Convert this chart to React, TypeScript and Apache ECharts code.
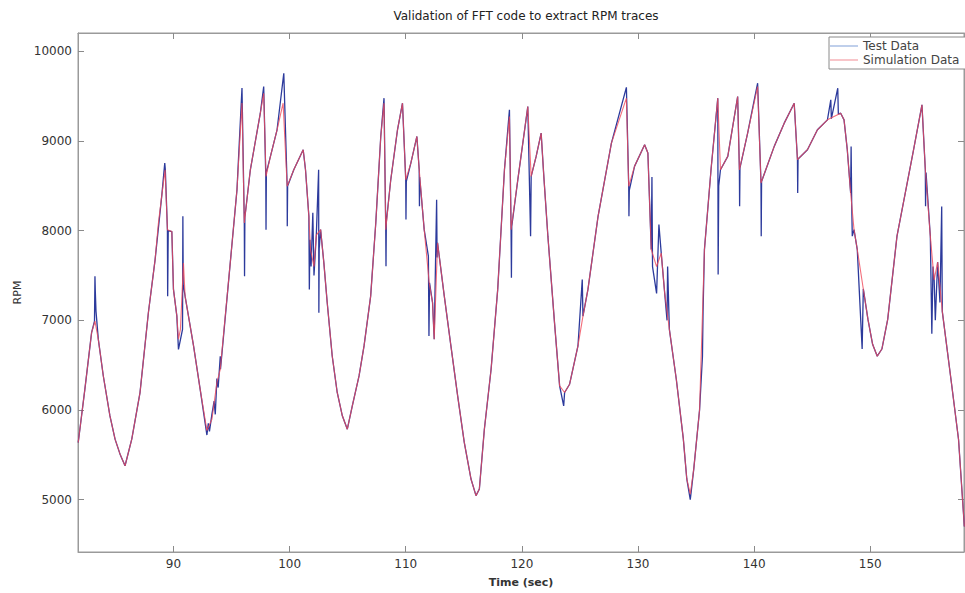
import React, { useEffect, useRef } from "react";
import * as echarts from "echarts";

// Time axis (sec) and RPM
const xTicks = [90, 100, 110, 120, 130, 140, 150];
const yTicks = [5000, 6000, 7000, 8000, 9000, 10000];

// Simulation Data (red)
const simT = [
  81.8, 82.37, 82.95, 83.24, 83.53, 83.96, 84.53, 84.97, 85.4, 85.83, 86.41, 87.12, 87.84, 88.42, 88.7, 89.0, 89.28,
  89.48, 89.86, 90.0, 90.29, 90.43, 90.6, 90.86, 91.0, 91.73, 92.3, 92.88, 93.31, 93.74, 94.03, 94.89, 95.47, 95.9,
  96.1, 96.62, 97.48, 97.77, 97.97, 98.35, 98.92, 99.44, 99.79, 100.36, 101.17, 101.37, 101.66, 101.8, 102.1, 102.3,
  102.67, 102.95, 103.24, 103.67, 104.1, 104.54, 104.97, 105.4, 105.98, 106.41, 106.98, 107.42, 107.85, 108.13,
  108.28, 108.71, 109.29, 109.72, 110.0, 110.44, 110.96, 111.16, 111.59, 112.02, 112.31, 112.45, 112.74, 113.32,
  113.89, 114.47, 115.04, 115.62, 116.05, 116.34, 116.77, 117.35, 117.92, 118.5, 118.93, 119.07, 119.65, 120.51,
  120.8, 121.23, 121.66, 121.89, 122.24, 122.81, 123.25, 123.68, 124.11, 124.83, 125.26, 125.69, 126.56, 127.71,
  129.0, 129.2, 129.7, 130.57, 130.85, 131.14, 131.6, 132.0, 132.3, 132.7, 133.3, 133.9, 134.2, 134.5, 134.8, 135.3,
  135.72, 136.3, 136.87, 137.1, 137.73, 138.58, 138.73, 139.44, 140.3, 140.59, 141.73, 142.59, 143.45, 143.73,
  144.59, 145.45, 146.31, 147.45, 147.74, 148.02, 148.31, 148.6, 148.88, 149.4, 149.8, 150.2, 150.6, 151.0, 151.5,
  152.3, 153.73, 154.45, 154.74, 155.17, 155.5, 155.8, 156.2, 157.0, 157.6, 158.1,
];
const simRpm = [
  5637, 6230, 6862, 6991, 6787, 6379, 5933, 5674, 5507, 5377, 5674, 6194, 7085, 7678, 8080, 8400, 8680,
  8012, 7990, 7345, 7050, 6790, 6900, 7640, 7270, 6714, 6230, 5770, 5896, 6305, 6454, 7641, 8459, 9424,
  8086, 8680, 9311, 9534, 8606, 8829, 9126, 9423, 8495, 8680, 8903, 8680, 8160, 7790, 7600, 7950,
  8012, 7641, 7196, 6602, 6195, 5935, 5785, 6045, 6380, 6714, 7270, 8086, 9052, 9423,
  8012, 8568, 9126, 9423, 8568, 8755, 9052, 8680, 8012, 7419, 7196, 6788, 7864, 7270,
  6714, 6157, 5638, 5229, 5044, 5118, 5785, 6454, 7345, 8680, 9274, 8012, 8568, 9385,
  8606, 8829, 9089, 8606, 7939, 6974, 6269, 6195, 6287, 6714, 7047, 7345, 8160, 8977,
  9479, 8495, 8718, 8959, 8867, 7790, 7600, 7750, 7300, 6900, 6340, 5680, 5230, 5060, 5340, 6000,
  7790, 8700, 9479, 8680, 8830, 9497, 8680, 9089, 9609, 8532, 8941, 9200, 9423, 8792,
  8904, 9126, 9237, 9311, 9237, 8904, 8420, 8012, 7790, 7350, 7010, 6733, 6600, 6680, 7010,
  7939, 8904, 9405, 8680, 7939, 7450, 7650, 7100, 6290, 5670, 4700,
];

// Test Data (blue), same trace with the measured spikes
const testT = [
  81.8, 82.37, 82.95, 83.2, 83.24, 83.27, 83.33, 83.53, 83.96, 84.53, 84.97, 85.4, 85.83, 86.41, 87.12, 87.84, 88.42,
  89.0, 89.25, 89.3, 89.48, 89.5, 89.55, 89.86, 90.0, 90.29, 90.43, 90.78, 90.81, 90.84, 91.0, 91.73, 92.3, 92.88,
  93.0, 93.1, 93.31, 93.5, 93.6, 93.74, 93.85, 94.03, 94.05, 94.89, 95.47, 95.9, 96.1, 96.12, 96.15, 96.62, 97.48,
  97.77, 97.95, 97.97, 98.0, 98.35, 98.92, 99.5, 99.79, 99.8, 99.83, 100.36, 101.17, 101.37, 101.66, 101.7, 101.75,
  101.85, 102.0, 102.1, 102.3, 102.5, 102.52, 102.55, 102.67, 102.95, 103.24, 103.67, 104.1, 104.54, 104.97, 105.4,
  105.98, 106.41, 106.98, 107.42, 107.85, 108.13, 108.28, 108.3, 108.33, 108.71, 109.29, 109.72, 110.0, 110.02,
  110.05, 110.44, 110.96, 111.16, 111.18, 111.2, 111.59, 111.95, 112.0, 112.05, 112.31, 112.45, 112.66, 112.7,
  112.74, 113.32, 113.89, 114.47, 115.04, 115.62, 116.05, 116.34, 116.77, 117.35, 117.92, 118.5, 118.93, 119.07,
  119.1, 119.13, 119.65, 120.51, 120.75, 120.8, 121.23, 121.66, 121.89, 122.24, 122.81, 123.25, 123.6, 123.68,
  124.11, 124.83, 125.2, 125.26, 125.69, 126.56, 127.71, 129.0, 129.2, 129.22, 129.25, 129.7, 130.57, 130.85,
  131.14, 131.2, 131.25, 131.6, 131.8, 132.0, 132.3, 132.5, 132.55, 132.7, 133.3, 133.9, 134.2, 134.5, 134.8,
  135.3, 135.55, 135.6, 135.72, 136.3, 136.87, 136.9, 136.95, 137.1, 137.73, 138.58, 138.73, 138.75, 138.78,
  139.44, 140.3, 140.59, 140.61, 140.64, 141.73, 142.59, 143.45, 143.73, 143.75, 143.78, 144.59, 145.45, 146.31,
  146.6, 146.65, 147.2, 147.25, 147.45, 147.74, 148.02, 148.31, 148.35, 148.4, 148.45, 148.6, 148.88, 149.3,
  149.4, 149.8, 150.2, 150.6, 151.0, 151.5, 152.3, 153.73, 154.45, 154.74, 154.76, 154.8, 155.17, 155.3, 155.4,
  155.5, 155.6, 155.8, 156.0, 156.15, 156.2, 157.0, 157.6, 158.1,
];
const testRpm = [
  5637, 6230, 6862, 6990, 7492, 7325, 7100, 6787, 6379, 5933, 5674, 5507, 5377, 5674, 6194, 7085, 7678,
  8400, 8755, 8680, 8012, 7270, 8000, 7990, 7345, 7050, 6676, 6900, 8160, 7400, 7270, 6714, 6230, 5720,
  5850, 5760, 5950, 6100, 5950, 6350, 6250, 6600, 6454, 7641, 8459, 9591, 8086, 7493, 8150, 8680, 9311,
  9608, 8606, 8012, 8650, 8829, 9126, 9757, 8495, 8050, 8500, 8680, 8903, 8680, 8160, 7345, 7900,
  7600, 8200, 7500, 7950, 8680, 7085, 7800, 8012, 7641, 7196, 6602, 6195, 5935, 5785, 6045,
  6380, 6714, 7270, 8086, 9052, 9479, 8012, 7604, 8100, 8568, 9126, 9423, 8568, 8124,
  8550, 8755, 9052, 8680, 8272, 8600, 8012, 7716, 6825, 7419, 7196, 6788, 8346, 7700,
  7864, 7270, 6714, 6157, 5638, 5229, 5044, 5118, 5785, 6454, 7345, 8680, 9349, 8012,
  7474, 8050, 8568, 9385, 7939, 8606, 8829, 9089, 8606, 7939, 6974, 6269, 6045, 6195,
  6287, 6714, 7456, 7047, 7345, 8160, 8977, 9600, 8495, 8161, 8450, 8718, 8959, 8867,
  7790, 8600, 7600, 7300, 8070, 7750, 7300, 7000, 7600, 6900, 6340, 5680, 5230, 5000, 5340,
  6000, 6600, 7100, 7790, 8700, 9479, 7510, 8500, 8680, 8830, 9497, 8680, 8272, 8700,
  9089, 9646, 8532, 7939, 8550, 8941, 9200, 9423, 8792, 8420, 8800, 8904, 9126, 9237,
  9460, 9250, 9590, 9300, 9311, 9237, 8904, 8420, 8940, 8300, 7939, 8012, 7790, 6680,
  7350, 7010, 6733, 6600, 6680, 7010, 7939, 8904, 9405, 8680, 8272, 8650, 7939, 6850, 7600,
  7450, 7000, 7650, 7200, 8270, 7100, 6290, 5670, 4700,
];

const X_MIN = 81.78;
const X_MAX = 158.07;
const Y_MIN = 4415;
const Y_MAX = 10206;

const FONT = "DejaVu Sans";

export default function App() {
  const ref = useRef<HTMLDivElement>(null);
  useEffect(() => {
    if (!ref.current) return;
    const chart = echarts.init(ref.current, undefined, { renderer: "svg" });
    const axisLine = { show: true, onZero: false, lineStyle: { color: "#9a9a9a", width: 1 } };
    const tickStyle = { lineStyle: { color: "#8a8a8a" } };
    const testData = testT.map((t, i) => [t, testRpm[i]]);
    const simData = simT.map((t, i) => [t, simRpm[i]]);
    chart.setOption({
      animation: false,
      backgroundColor: "#ffffff",
      title: {
        text: "Validation of FFT code to extract RPM traces",
        left: 521,
        top: 5,
        textAlign: "center",
        textStyle: { fontFamily: FONT, fontSize: 12, fontWeight: "normal", color: "#222" },
      },
      legend: {
        left: 829,
        top: 37,
        orient: "vertical",
        icon: "rect",
        itemWidth: 28,
        itemHeight: 1,
        itemGap: 2,
        padding: [3, 20, 3, 1],
        borderColor: "#8a8a8a",
        borderWidth: 1,
        backgroundColor: "#fff",
        textStyle: { fontFamily: FONT, fontSize: 12, color: "#444" },
        data: [
          { name: "Test Data", itemStyle: { color: "#7f9fd6" } },
          { name: "Simulation Data", itemStyle: { color: "#f08a92" } },
        ],
      },
      grid: {
        left: 78,
        right: 1,
        top: 33,
        bottom: 40,
        show: true,
        borderColor: "#9a9a9a",
        borderWidth: 1,
        backgroundColor: "transparent",
      },
      xAxis: [
        {
          type: "value",
          min: X_MIN,
          max: X_MAX,
          name: "Time (sec)",
          nameLocation: "middle",
          nameGap: 25,
          nameTextStyle: { fontFamily: FONT, fontSize: 11, fontWeight: "bold", color: "#333" },
          axisLine,
          axisTick: { show: true, inside: true, length: 6, customValues: xTicks, ...tickStyle },
          axisLabel: {
            customValues: xTicks,
            margin: 6,
            fontFamily: FONT,
            fontSize: 12,
            color: "#333",
            formatter: (v: number) => String(v),
          },
          splitLine: { show: false },
        },
        {
          type: "value",
          position: "top",
          min: X_MIN,
          max: X_MAX,
          axisLine,
          axisTick: { show: true, inside: true, length: 6, customValues: xTicks, ...tickStyle },
          axisLabel: { show: false },
          splitLine: { show: false },
        },
      ],
      yAxis: [
        {
          type: "value",
          min: Y_MIN,
          max: Y_MAX,
          name: "RPM",
          nameLocation: "middle",
          nameGap: 52,
          nameTextStyle: { fontFamily: FONT, fontSize: 11, color: "#333" },
          axisLine,
          axisTick: { show: true, inside: true, length: 6, customValues: yTicks, ...tickStyle },
          axisLabel: {
            customValues: yTicks,
            margin: 6,
            fontFamily: FONT,
            fontSize: 12,
            color: "#333",
            formatter: (v: number) => String(v),
          },
          splitLine: { show: false },
        },
        {
          type: "value",
          position: "right",
          min: Y_MIN,
          max: Y_MAX,
          axisLine,
          axisTick: { show: true, inside: true, length: 6, customValues: yTicks, ...tickStyle },
          axisLabel: { show: false },
          splitLine: { show: false },
        },
      ],
      series: [
        {
          name: "Test Data",
          type: "line",
          data: testData,
          symbol: "none",
          lineStyle: { color: "#2c3a9c", width: 1.3 },
          itemStyle: { color: "#7f9fd6" },
          z: 2,
        },
        {
          name: "Simulation Data",
          type: "line",
          data: simData,
          symbol: "none",
          lineStyle: { color: "#f04a5a", width: 1.1, opacity: 0.8 },
          itemStyle: { color: "#f08a92" },
          z: 3,
        },
      ],
    });
    return () => chart.dispose();
  }, []);
  return (
    <div
      ref={ref}
      style={{ position: "fixed", left: 0, top: 0, width: 965, height: 593, background: "#fff" }}
    />
  );
}
